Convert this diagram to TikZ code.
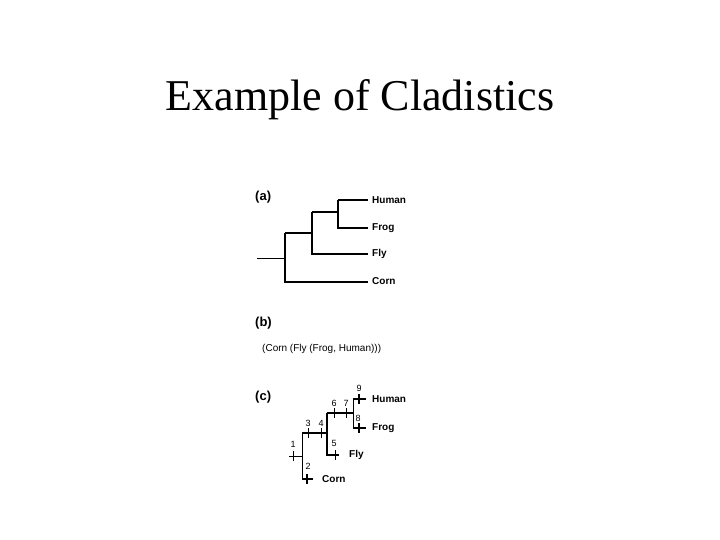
\documentclass[tikz,border=0pt]{standalone}
\usepackage{fontspec}
\setmainfont{Liberation Serif}
\newfontfamily\arialf{Liberation Sans}
\begin{document}
\begin{tikzpicture}[x=1pt,y=-1pt,
  br/.style={line width=2.2pt},
  thinbr/.style={line width=1pt},
  midbr/.style={line width=1.5pt},
  taxon/.style={font=\arialf\bfseries\fontsize{10}{12}\selectfont, anchor=west, inner sep=0pt},
  panel/.style={font=\arialf\bfseries\fontsize{13}{15}\selectfont, anchor=west, inner sep=0pt},
  num/.style={font=\arialf\fontsize{9}{10}\selectfont, inner sep=0pt},
  tickthin/.style={line width=1pt},
  tickthick/.style={line width=2.2pt}]
\useasboundingbox (0,0) rectangle (720,540);
\node[font=\fontsize{44}{48}\selectfont, anchor=base, inner sep=0pt] (title) at (360,111) {Example of Cladistics};

% ---------- (a)
\node[panel] (pa) at (255,197) {(a)};
\coordinate (aR) at (257,258);
\coordinate (aJ1) at (285,258);
\coordinate (aJ1t) at (285,233);
\coordinate (aJ1b) at (285,282);
\coordinate (aJ2) at (312,233);
\coordinate (aJ2t) at (312,212);
\coordinate (aJ2b) at (312,254);
\coordinate (aJ3) at (338,212);
\coordinate (aJ3t) at (338,200);
\coordinate (aJ3b) at (338,228);
\coordinate (aHe) at (368,200);
\coordinate (aFe) at (368,228);
\coordinate (aYe) at (368,254);
\coordinate (aCe) at (368,282);
\draw[thinbr] (aR) -- (aJ1);
\draw[br] (aJ1t) -- (aJ1b) -- (aCe);
\draw[br] (aJ1t) -- (aJ2);
\draw[br] (aJ2t) -- (aJ2b) -- (aYe);
\draw[br] (aJ2t) -- (aJ3);
\draw[br] (aJ3t) -- (aJ3b) -- (aFe);
\draw[br] (aJ3t) -- (aHe);
\node[taxon] (aHuman) at (372,200) {Human};
\node[taxon] (aFrog) at (372,228) {Frog};
\node[taxon] (aFly) at (372,254) {Fly};
\node[taxon] (aCorn) at (372,281) {Corn};

% ---------- (b)
\node[panel] (pb) at (255,323) {(b)};
\node[font=\arialf\fontsize{10}{12}\selectfont, anchor=west, inner sep=0pt] (newick) at (262,349) {(Corn (Fly (Frog, Human)))};

% ---------- (c)
\node[panel] (pc) at (255,397) {(c)};
\coordinate (cR) at (289,456);
\coordinate (cJ1) at (302,456);
\coordinate (cJ1t) at (302,433);
\coordinate (cJ1b) at (302,479);
\coordinate (cCe) at (313,479);
\coordinate (cJ2) at (327,433);
\coordinate (cJ2t) at (327,413);
\coordinate (cJ2b) at (327,455);
\coordinate (cYe) at (339,455);
\coordinate (cJ3) at (353,413);
\coordinate (cJ3t) at (353,399);
\coordinate (cJ3b) at (353,428);
\coordinate (cHe) at (366,399);
\coordinate (cFe) at (366,428);
\draw[thinbr] (cR) -- (cJ1);
\draw[thinbr] (cJ1t) -- (cJ1b);
\draw[br] (cJ1b) -- (cCe);
\draw[midbr] (cJ1t) -- (cJ2);
\draw[br] (cJ2t) -- (cJ2b) -- (cYe);
\draw[br] (cJ2t) -- (cJ3);
\draw[thinbr] (cJ3t) -- (cJ3b);
\draw[br] (cJ3t) -- (cHe);
\draw[br] (cJ3b) -- (cFe);
% character ticks
\draw[tickthin] (293,451) -- (293,461);
\draw[tickthick] (307,474) -- (307,484);
\draw[tickthin] (308,428) -- (308,438);
\draw[tickthin] (321,428) -- (321,438);
\draw[tickthin] (335,450) -- (335,460);
\draw[tickthin] (334,408) -- (334,418);
\draw[tickthin] (346,408) -- (346,418);
\draw[tickthick] (359,394) -- (359,404);
\draw[tickthick] (359,423) -- (359,433);
\node[num] (n1) at (293,444) {1};
\node[num] (n2) at (308,466) {2};
\node[num] (n3) at (308,423) {3};
\node[num] (n4) at (321,423) {4};
\node[num] (n5) at (334,443) {5};
\node[num] (n6) at (334,403) {6};
\node[num] (n7) at (346,403) {7};
\node[num] (n9) at (359,388) {9};
\node[num] (n8) at (358,418) {8};
\node[taxon] (cHuman) at (372,399) {Human};
\node[taxon] (cFrog) at (372,428) {Frog};
\node[taxon] (cFly) at (349,455) {Fly};
\node[taxon] (cCorn) at (322,479) {Corn};
\end{tikzpicture}
\end{document}
